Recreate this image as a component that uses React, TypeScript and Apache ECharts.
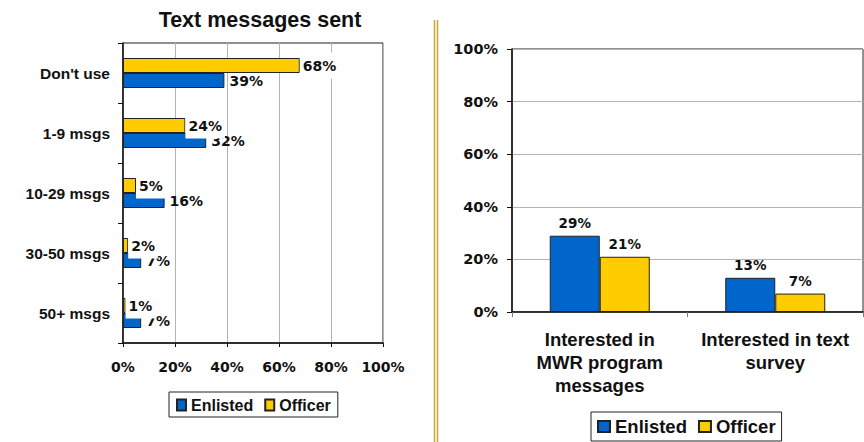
import React, { useEffect, useRef } from 'react';
import * as echarts from 'echarts';

const sentCategories = ["Don't use", '1-9 msgs', '10-29 msgs', '30-50 msgs', '50+ msgs'];
const enlistedSent = [39, 32, 16, 7, 7];
const officerSent = [68, 24, 5, 2, 1];

const interestCategories = ['Interested in\nMWR program\nmessages', 'Interested in text\nsurvey'];
const enlistedInterest = [29, 13];
const officerInterest = [21, 7];

const seriesNames = ['Enlisted', 'Officer'];

const BLUE = '#0066CC';
const YELLOW = '#FFCC00';
const INK = '#111111';
const NUM_FONT = 'DejaVu Sans';
const WORD_FONT = 'Liberation Sans';

export default function App() {
  const ref = useRef<HTMLDivElement>(null);
  useEffect(() => {
    if (!ref.current) return;
    const chart = echarts.init(ref.current, undefined, { renderer: 'svg' });
    const pct = (v: number) => v + '%';
    const num = (size: number) => ({ fontFamily: NUM_FONT, fontWeight: 'bold' as const, fontSize: size, color: INK });
    const word = (size: number) => ({ fontFamily: WORD_FONT, fontWeight: 'bold' as const, fontSize: size, color: INK });
    chart.setOption({
      animation: false,
      backgroundColor: '#ffffff',
      title: {
        text: 'Text messages sent',
        left: 255,
        top: 4,
        textAlign: 'center',
        textStyle: word(21.5),
      },
      grid: [
        { left: 123, top: 43, width: 260, height: 300, show: true, borderColor: '#222', borderWidth: 1, backgroundColor: 'transparent' },
        { left: 512, top: 49, width: 351, height: 263, show: true, borderColor: '#222', borderWidth: 1, backgroundColor: 'transparent' },
      ],
      legend: [
        {
          data: seriesNames,
          left: 169,
          top: 392,
          padding: [5, 7, 4, 7],
          itemGap: 11,
          itemWidth: 9,
          itemHeight: 11,
          icon: 'rect',
          borderColor: '#222',
          borderWidth: 1,
          textStyle: word(16),
          selectedMode: false,
        },
        {
          data: seriesNames,
          left: 591,
          top: 412,
          padding: [5, 6, 5, 6],
          itemGap: 11,
          itemWidth: 12,
          itemHeight: 11,
          icon: 'rect',
          borderColor: '#222',
          borderWidth: 1,
          textStyle: word(18.5),
          selectedMode: false,
        },
      ],
      xAxis: [
        {
          type: 'value',
          gridIndex: 0,
          min: 0,
          max: 100,
          interval: 20,
          axisLine: { show: true, lineStyle: { color: '#111', width: 1.5 } },
          axisTick: { show: true, length: 4, lineStyle: { color: '#111' } },
          axisLabel: { ...num(14), formatter: pct, margin: 17 },
          splitLine: { show: true, lineStyle: { color: '#b4b4b4', width: 1 } },
        },
        {
          type: 'category',
          gridIndex: 1,
          data: interestCategories,
          axisLine: { show: true, lineStyle: { color: '#111', width: 1.5 } },
          axisTick: { show: true, length: 5, lineStyle: { color: '#777' } },
          axisLabel: { ...word(18.5), interval: 0, lineHeight: 23, margin: 16 },
        },
      ],
      yAxis: [
        {
          type: 'category',
          gridIndex: 0,
          inverse: true,
          data: sentCategories,
          axisLine: { show: true, lineStyle: { color: '#111', width: 1.5 } },
          axisTick: { show: true, length: 5, lineStyle: { color: '#111' } },
          axisLabel: { ...word(15.5), margin: 13 },
        },
        {
          type: 'value',
          gridIndex: 1,
          min: 0,
          max: 100,
          interval: 20,
          axisLine: { show: true, lineStyle: { color: '#111', width: 1.5 } },
          axisTick: { show: true, length: 5, lineStyle: { color: '#111' } },
          axisLabel: { ...num(14.5), formatter: pct, margin: 14 },
          splitLine: { show: true, lineStyle: { color: '#b4b4b4', width: 1 } },
        },
      ],
      series: [
        {
          name: 'Officer',
          type: 'bar',
          xAxisIndex: 0,
          yAxisIndex: 0,
          data: officerSent,
          barWidth: 15,
          barGap: '0%',
          z: 3,
          itemStyle: { color: YELLOW, borderColor: '#222', borderWidth: 1 },
          label: {
            show: true,
            position: 'right',
            distance: 0,
            formatter: (p: any) => p.value + '%',
            backgroundColor: '#ffffff',
            padding: [6, 3, 6, 3],
            ...num(14),
          },
        },
        {
          name: 'Enlisted',
          type: 'bar',
          xAxisIndex: 0,
          yAxisIndex: 0,
          data: enlistedSent,
          barWidth: 15,
          barGap: '0%',
          z: 2,
          itemStyle: { color: BLUE, borderColor: '#222', borderWidth: 1 },
          label: {
            show: true,
            position: 'right',
            distance: 5,
            formatter: (p: any) => p.value + '%',
            ...num(14),
          },
        },
        {
          name: 'Enlisted',
          type: 'bar',
          xAxisIndex: 1,
          yAxisIndex: 1,
          data: enlistedInterest,
          barWidth: 50,
          barGap: '0%',
          itemStyle: { color: BLUE, borderColor: '#222', borderWidth: 1 },
          label: {
            show: true,
            position: 'top',
            distance: 6,
            formatter: (p: any) => p.value + '%',
            ...num(13.5),
          },
        },
        {
          name: 'Officer',
          type: 'bar',
          xAxisIndex: 1,
          yAxisIndex: 1,
          data: officerInterest,
          barWidth: 50,
          barGap: '0%',
          itemStyle: { color: YELLOW, borderColor: '#222', borderWidth: 1 },
          label: {
            show: true,
            position: 'top',
            distance: 6,
            formatter: (p: any) => p.value + '%',
            ...num(13.5),
          },
        },
      ],
      graphic: [
        { type: 'line', shape: { x1: 434.5, y1: 20, x2: 434.5, y2: 442 }, style: { stroke: '#C9A83A', lineWidth: 1.5 } },
        { type: 'line', shape: { x1: 437.5, y1: 20, x2: 437.5, y2: 442 }, style: { stroke: '#C9A83A', lineWidth: 1.5 } },
      ],
    });
    return () => chart.dispose();
  }, []);
  return <div ref={ref} style={{ position: 'absolute', left: 0, top: 0, width: 864, height: 442 }} />;
}
